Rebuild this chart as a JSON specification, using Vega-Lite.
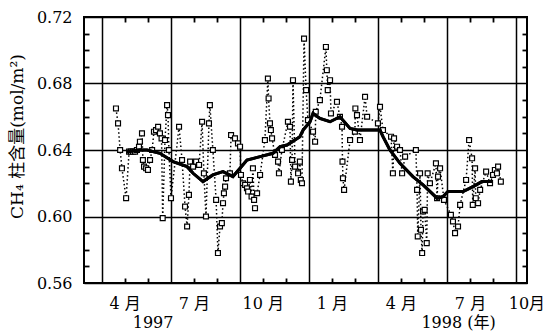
{
  "$schema": "https://vega.github.io/schema/vega-lite/v6.json",
  "width": 443,
  "height": 266,
  "autosize": {"type": "none"},
  "padding": {"left": 84, "top": 17, "right": 25, "bottom": 51},
  "background": "white",
  "config": {
    "view": {"stroke": "black", "strokeWidth": 2},
    "axis": {"labelFont": "DejaVu Serif, Noto Sans CJK SC", "titleFont": "DejaVu Serif, Noto Sans CJK SC", "labelColor": "black", "titleColor": "black", "domain": false, "tickColor": "black", "gridColor": "black"}
  },
  "datasets": {
    "obs": [
      {"m":3.62,"v":0.665},{"m":3.71,"v":0.656},{"m":3.80,"v":0.640},{"m":3.88,"v":0.629},{"m":4.06,"v":0.611},{"m":4.19,"v":0.639},{"m":4.27,"v":0.639},{"m":4.36,"v":0.639},{"m":4.45,"v":0.639},{"m":4.53,"v":0.640},{"m":4.62,"v":0.642},{"m":4.66,"v":0.645},{"m":4.75,"v":0.650},{"m":4.79,"v":0.634},{"m":4.84,"v":0.630},{"m":4.93,"v":0.629},{"m":5.01,"v":0.628},{"m":5.10,"v":0.634},{"m":5.19,"v":0.640},{"m":5.27,"v":0.651},{"m":5.36,"v":0.652},{"m":5.45,"v":0.654},{"m":5.53,"v":0.650},{"m":5.60,"v":0.647},{"m":5.65,"v":0.599},{"m":5.75,"v":0.646},{"m":5.84,"v":0.667},{"m":5.88,"v":0.661},{"m":5.92,"v":0.640},{"m":6.01,"v":0.611},{"m":6.36,"v":0.654},{"m":6.49,"v":0.634},{"m":6.62,"v":0.606},{"m":6.71,"v":0.594},{"m":6.79,"v":0.613},{"m":6.84,"v":0.633},{"m":6.97,"v":0.630},{"m":7.10,"v":0.633},{"m":7.23,"v":0.631},{"m":7.36,"v":0.657},{"m":7.44,"v":0.626},{"m":7.53,"v":0.600},{"m":7.66,"v":0.656},{"m":7.70,"v":0.667},{"m":7.83,"v":0.640},{"m":7.97,"v":0.610},{"m":8.05,"v":0.578},{"m":8.14,"v":0.594},{"m":8.22,"v":0.596},{"m":8.27,"v":0.608},{"m":8.31,"v":0.614},{"m":8.36,"v":0.618},{"m":8.40,"v":0.623},{"m":8.57,"v":0.626},{"m":8.62,"v":0.649},{"m":8.79,"v":0.647},{"m":8.92,"v":0.644},{"m":9.01,"v":0.642},{"m":9.05,"v":0.625},{"m":9.14,"v":0.620},{"m":9.23,"v":0.619},{"m":9.31,"v":0.617},{"m":9.36,"v":0.615},{"m":9.44,"v":0.622},{"m":9.51,"v":0.612},{"m":9.57,"v":0.629},{"m":9.62,"v":0.610},{"m":9.66,"v":0.605},{"m":9.75,"v":0.614},{"m":9.88,"v":0.625},{"m":10.09,"v":0.646},{"m":10.22,"v":0.683},{"m":10.25,"v":0.671},{"m":10.31,"v":0.656},{"m":10.35,"v":0.652},{"m":10.40,"v":0.647},{"m":10.53,"v":0.637},{"m":10.66,"v":0.633},{"m":10.70,"v":0.626},{"m":10.83,"v":0.640},{"m":11.09,"v":0.657},{"m":11.18,"v":0.654},{"m":11.22,"v":0.621},{"m":11.27,"v":0.634},{"m":11.31,"v":0.682},{"m":11.40,"v":0.630},{"m":11.53,"v":0.626},{"m":11.61,"v":0.633},{"m":11.65,"v":0.622},{"m":11.70,"v":0.620},{"m":11.79,"v":0.707},{"m":11.88,"v":0.676},{"m":11.96,"v":0.658},{"m":12.18,"v":0.651},{"m":12.27,"v":0.645},{"m":12.30,"v":0.663},{"m":12.48,"v":0.670},{"m":12.74,"v":0.702},{"m":12.78,"v":0.688},{"m":12.82,"v":0.676},{"m":12.92,"v":0.682},{"m":12.96,"v":0.662},{"m":13.22,"v":0.669},{"m":13.35,"v":0.660},{"m":13.44,"v":0.654},{"m":13.46,"v":0.633},{"m":13.48,"v":0.623},{"m":13.53,"v":0.616},{"m":13.79,"v":0.646},{"m":14.00,"v":0.651},{"m":14.02,"v":0.665},{"m":14.09,"v":0.661},{"m":14.22,"v":0.646},{"m":14.44,"v":0.672},{"m":14.53,"v":0.660},{"m":15.00,"v":0.656},{"m":15.09,"v":0.666},{"m":15.22,"v":0.652},{"m":15.57,"v":0.648},{"m":15.65,"v":0.626},{"m":15.70,"v":0.647},{"m":15.83,"v":0.642},{"m":15.96,"v":0.640},{"m":16.05,"v":0.626},{"m":16.18,"v":0.636},{"m":16.65,"v":0.640},{"m":16.70,"v":0.616},{"m":16.73,"v":0.588},{"m":16.83,"v":0.626},{"m":16.87,"v":0.592},{"m":16.92,"v":0.578},{"m":16.96,"v":0.603},{"m":17.03,"v":0.604},{"m":17.12,"v":0.584},{"m":17.16,"v":0.626},{"m":17.26,"v":0.620},{"m":17.52,"v":0.632},{"m":17.57,"v":0.611},{"m":17.61,"v":0.624},{"m":17.70,"v":0.629},{"m":17.87,"v":0.610},{"m":18.17,"v":0.601},{"m":18.26,"v":0.597},{"m":18.35,"v":0.590},{"m":18.48,"v":0.594},{"m":18.57,"v":0.607},{"m":18.83,"v":0.622},{"m":18.96,"v":0.646},{"m":19.09,"v":0.635},{"m":19.12,"v":0.607},{"m":19.22,"v":0.629},{"m":19.25,"v":0.611},{"m":19.35,"v":0.608},{"m":19.44,"v":0.616},{"m":19.70,"v":0.627},{"m":19.87,"v":0.620},{"m":20.00,"v":0.625},{"m":20.08,"v":0.628},{"m":20.17,"v":0.626},{"m":20.22,"v":0.630},{"m":20.34,"v":0.621}
    ],
    "smooth": [
      {"m":4.10,"v":0.639},{"m":4.66,"v":0.640},{"m":4.97,"v":0.640},{"m":5.53,"v":0.638},{"m":6.10,"v":0.633},{"m":6.71,"v":0.630},{"m":6.97,"v":0.626},{"m":7.40,"v":0.621},{"m":7.83,"v":0.625},{"m":8.27,"v":0.627},{"m":8.70,"v":0.624},{"m":9.01,"v":0.629},{"m":9.31,"v":0.634},{"m":9.88,"v":0.636},{"m":10.44,"v":0.638},{"m":10.75,"v":0.642},{"m":11.05,"v":0.643},{"m":11.61,"v":0.648},{"m":11.75,"v":0.652},{"m":12.05,"v":0.657},{"m":12.18,"v":0.662},{"m":12.48,"v":0.659},{"m":12.92,"v":0.657},{"m":13.35,"v":0.660},{"m":13.79,"v":0.653},{"m":14.09,"v":0.652},{"m":15.09,"v":0.652},{"m":15.22,"v":0.648},{"m":15.52,"v":0.640},{"m":15.96,"v":0.632},{"m":16.52,"v":0.624},{"m":16.96,"v":0.619},{"m":17.57,"v":0.611},{"m":17.83,"v":0.612},{"m":18.04,"v":0.615},{"m":18.70,"v":0.615},{"m":19.13,"v":0.618},{"m":19.52,"v":0.621},{"m":20.00,"v":0.621}
    ]
  },
  "layer": [
    {
      "data": {"name": "obs"},
      "mark": {"type": "line", "strokeDash": [1.5, 2.5], "strokeWidth": 1.5, "color": "black"},
      "encoding": {
        "x": {
          "field": "m", "type": "quantitative",
          "scale": {"domain": [2.231, 21.476], "nice": false, "zero": false},
          "axis": {
            "orient": "bottom",
            "values": [3,4,6,7,9,10,12,13,15,16,18,19,21,21.45],
            "grid": true, "gridWidth": 1.5,
            "gridOpacity": {"condition": {"test": "datum.value % 3 === 0", "value": 1}, "value": 0},
            "ticks": false,
            "labelExpr": "datum.value === 21.45 ? '10月' : (datum.value % 3 === 1 ? ((datum.value > 12 ? datum.value - 12 : datum.value) + ' 月') : '')",
            "labelFontSize": 16, "labelPadding": 20, "labelBaseline": "middle",
            "labelFlush": false, "labelOverlap": false, "labelBound": false,
            "title": null
          }
        },
        "y": {
          "field": "v", "type": "quantitative",
          "scale": {"domain": [0.56, 0.72], "nice": false, "zero": false},
          "axis": {
            "orient": "left",
            "values": [0.56,0.60,0.64,0.68,0.72],
            "grid": true, "gridWidth": 1.5, "ticks": false,
            "format": ".2f",
            "labelFontSize": 16, "labelPadding": 12, "labelFlush": false, "labelOverlap": false,
            "title": "CH₄ 柱含量(mol/m²)", "titleFontSize": 17, "titleFontWeight": "normal", "titlePadding": 10, "titleY": 119
          }
        }
      }
    },
    {
      "data": {"name": "obs"},
      "mark": {"type": "point", "shape": "square", "filled": true, "fill": "white", "stroke": "black", "strokeWidth": 1.2, "size": 24, "opacity": 1},
      "encoding": {
        "x": {
          "field": "m", "type": "quantitative",
          "scale": {"domain": [2.231, 21.476], "nice": false, "zero": false},
          "axis": {
            "orient": "bottom", "values": [5.21, 18.48],
            "labelExpr": "datum.value < 10 ? '1997' : '1998 (年)'",
            "ticks": false, "grid": false, "labelFontSize": 16, "labelPadding": 39, "labelBaseline": "middle",
            "labelFlush": false, "labelOverlap": false, "title": null
          }
        },
        "y": {
          "field": "v", "type": "quantitative",
          "scale": {"domain": [0.56, 0.72], "nice": false, "zero": false},
          "axis": {
            "orient": "right", "offset": -5,
            "values": [0.57,0.58,0.59,0.61,0.62,0.63,0.65,0.66,0.67,0.69,0.70,0.71],
            "labels": false, "grid": false, "tickSize": 5, "tickWidth": 1.8, "title": null
          }
        }
      }
    },
    {
      "data": {"name": "smooth"},
      "mark": {"type": "line", "strokeWidth": 3, "color": "black"},
      "encoding": {
        "x": {
          "field": "m", "type": "quantitative",
          "scale": {"domain": [2.231, 21.476], "nice": false, "zero": false},
          "axis": {
            "orient": "top", "offset": -5, "values": [4,5,7,8,10,11,13,14,16,17,19,20],
            "labels": false, "grid": false, "tickSize": 5, "tickWidth": 1.8, "title": null
          }
        },
        "y": {
          "field": "v", "type": "quantitative",
          "scale": {"domain": [0.56, 0.72], "nice": false, "zero": false},
          "axis": {
            "orient": "left", "offset": -5,
            "values": [0.57,0.58,0.59,0.61,0.62,0.63,0.65,0.66,0.67,0.69,0.70,0.71],
            "labels": false, "grid": false, "tickSize": 5, "tickWidth": 1.8, "title": null
          }
        }
      }
    },
    {
      "data": {"name": "smooth"},
      "mark": {"type": "line", "strokeWidth": 3, "color": "black"},
      "encoding": {
        "x": {
          "field": "m", "type": "quantitative",
          "scale": {"domain": [2.231, 21.476], "nice": false, "zero": false},
          "axis": {
            "orient": "bottom", "offset": -5, "values": [4,5,7,8,10,11,13,14,16,17,19,20],
            "labels": false, "grid": false, "tickSize": 5, "tickWidth": 1.8, "title": null
          }
        },
        "y": {
          "field": "v", "type": "quantitative",
          "scale": {"domain": [0.56, 0.72], "nice": false, "zero": false},
          "axis": null
        }
      }
    }
  ],
  "resolve": {"axis": {"x": "independent", "y": "independent"}}
}
